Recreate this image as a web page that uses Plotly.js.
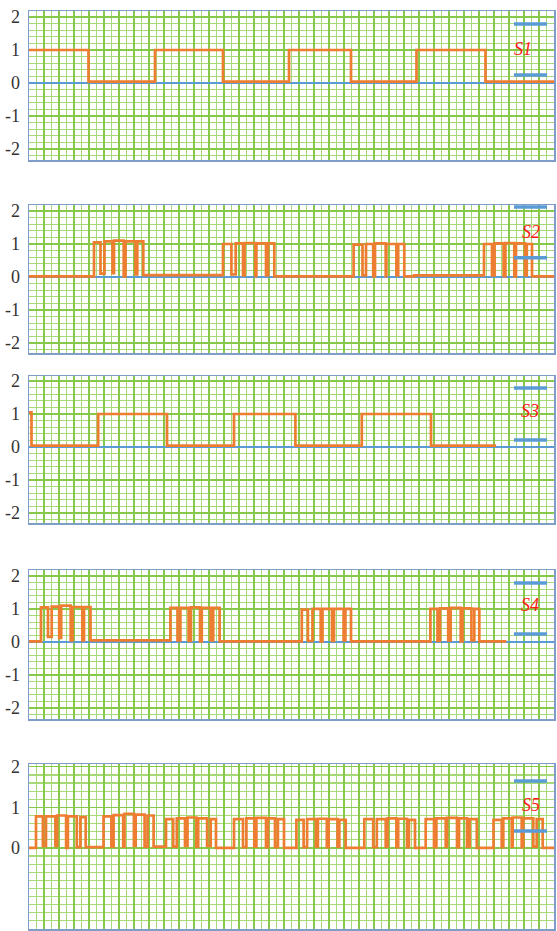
<!DOCTYPE html>
<html><head><meta charset="utf-8">
<script src="https://cdn.plot.ly/plotly-3.0.1.min.js"></script>
<style>html,body{margin:0;padding:0;background:#fff}#chart{width:557px;height:931px}</style>
</head><body><div id="chart"></div>
<script>
// ---- data (time in arbitrary units, level in signal units) ----
const s1Time  = [-1, 58.5, 125, 193, 259, 321, 386.5, 455.5, 524];
const s1Level = [1, 0.04, 1, 0.04, 1, 0.04, 1, 0.04, 0.04];

const s2Time  = [-1, 64, 70.5, 74.5, 82.5, 84, 93.7, 95.5, 105.5, 107.3, 113.3,
                 193, 201.4, 205.7, 213, 214.6, 225.4, 226.4, 236, 238, 244.3,
                 323.6, 332.5, 336, 343.2, 345, 355.7, 356.4, 366.4, 368.2, 374.3, 384,
                 454, 462, 464.6, 473.6, 475.4, 484.3, 486, 495, 496.8, 502, 524];
const s2Level = [0.02, 1.05, 0.1, 1.08, 0.12, 1.1, 0.02, 1.08, 0.08, 1.08, 0.06,
                 1.0, 0.08, 1.02, 0.05, 1.03, 0.03, 1.02, 0.05, 1.02, 0.02,
                 0.98, 0.05, 1.0, 0.02, 1.02, 0.03, 1.0, 0.05, 1.0, 0.02, 0.05,
                 1.0, 0.05, 1.02, 0.03, 1.03, 0.02, 1.02, 0.05, 1.0, 0.02, 0.02];

const s3Time  = [-1, 1.5, 68.2, 137, 204, 265.4, 331.8, 401, 466];
const s3Level = [1.05, 0.04, 1, 0.04, 1, 0.04, 1, 0.04, 0.04];

const s4Time  = [-1, 11, 18, 21.7, 29.2, 31.2, 40.7, 42.5, 52.3, 54, 60.5,
                 140.4, 147.5, 150.4, 158.6, 161, 170, 171.8, 180.7, 183.2, 189.6,
                 271.8, 277.9, 282.5, 290.7, 292.5, 302, 304, 313.6, 315.4, 321,
                 400.4, 407.5, 410, 418.2, 420.7, 430.7, 432.5, 441.4, 444.3, 449.3, 476.4];
const s4Level = [0.02, 1.05, 0.15, 1.07, 0.12, 1.1, 0.05, 1.06, 0.05, 1.06, 0.05,
                 1.03, 0.05, 1.03, 0.03, 1.05, 0.02, 1.03, 0.05, 1.03, 0.02,
                 0.98, 0.03, 1.0, 0.02, 1.0, 0.03, 1.0, 0.05, 1.0, 0.02,
                 1.0, 0.03, 1.02, 0.05, 1.03, 0.02, 1.02, 0.05, 1.0, 0.02, 0.02];

const s5Time  = [-3,
  6, 12.9, 16, 25.4, 27.1, 36.1, 37.9, 46.8, 50.4, 55.7,
  73.5, 81.4, 83.6, 93.2, 94.5, 103.9, 105.7, 114.6, 117.5, 123.6,
  136, 143.2, 146.8, 155, 157.5, 166.4, 168.2, 177.1, 180.7, 186,
  204, 213, 216.4, 224.3, 226.4, 236, 237.9, 245, 247.9, 254,
  266.4, 273.6, 277.1, 286, 287.9, 296.8, 298.6, 307.5, 309.3, 315.7,
  334.3, 343.2, 346.8, 355.7, 357.5, 366.4, 368.2, 377, 378.9, 385,
  395.7, 404, 406.4, 415.7, 417, 427, 429, 437, 439.6, 446.8,
  463.5, 471.7, 473.3, 481.7, 482.7, 491.7, 493.3, 503.3, 506.7, 512.7,
  526];
const s5Level = [0,
  0.78, 0.05, 0.78, 0.05, 0.8, 0.0, 0.78, 0.02, 0.76, 0.02,
  0.78, 0.03, 0.81, 0.03, 0.84, 0.05, 0.82, 0.03, 0.8, 0.03,
  0.71, 0.03, 0.73, 0.05, 0.75, 0.03, 0.73, 0.05, 0.71, 0.0,
  0.71, 0.02, 0.73, 0.03, 0.74, 0.02, 0.73, 0.02, 0.71, 0.0,
  0.69, 0.02, 0.71, 0.03, 0.72, 0.02, 0.71, 0.03, 0.69, 0.0,
  0.71, 0.02, 0.71, 0.03, 0.73, 0.02, 0.72, 0.02, 0.69, 0.0,
  0.71, 0.02, 0.73, 0.03, 0.74, 0.02, 0.73, 0.03, 0.71, 0.0,
  0.69, 0.02, 0.73, 0.03, 0.75, 0.02, 0.73, 0.03, 0.71, 0.0,
  0];

const seriesNames = ['S1', 'S2', 'S3', 'S4', 'S5'];
const nameTime    = [493, 501, 500, 500, 501];
const nameLevel   = [1.0, 1.33, 1.06, 1.06, 1.01];
const keyTime     = [484, 517];
const keyUpper    = [1.79, 2.12, 1.79, 1.79, 1.65];
const keyLower    = [0.24, 0.58, 0.21, 0.24, 0.42];
const baseTime    = [-1, 524];
const baseLevel   = [0, 0];
const tickVals    = [2, 1, 0, -1, -2];
const tickText    = ['2', '1', '0', '-1', '-2'];
const tickVals5   = [2, 1, 0];
const tickText5   = ['2', '1', '0'];

// ---- layout / style ----
const times  = [s1Time, s2Time, s3Time, s4Time, s5Time];
const levels = [s1Level, s2Level, s3Level, s4Level, s5Level];
const H = 931, W = 557;
const panels = [
  {top: 11,  bottom: 160, range: [-2.333, 2.182], minor: 0.2},
  {top: 205, bottom: 353, range: [-2.30, 2.18],  minor: 0.2},
  {top: 376, bottom: 523, range: [-2.30, 2.15],  minor: 0.2},
  {top: 570, bottom: 719, range: [-2.333, 2.18], minor: 0.2},
  {top: 764, bottom: 929, range: [-2.0, 2.07],   minor: 0.2}
];
const BLUE = '#5b9bd5', ORANGE = '#ed7d31';
const GRID = '#86c94a', GRID2 = '#a6da78', BORDER = '#7f9dc9';

const traces = [];
const layout = {
  width: W, height: H, margin: {l: 0, r: 0, t: 0, b: 0},
  paper_bgcolor: '#fff', plot_bgcolor: '#fff', showlegend: false
};

panels.forEach((p, i) => {
  const sfx = i === 0 ? '' : String(i + 1);
  const xa = 'x' + sfx, ya = 'y' + sfx;
  if (i < 4) {
    traces.push({x: baseTime, y: baseLevel, xaxis: xa, yaxis: ya, mode: 'lines',
      line: {color: BLUE, width: 2}, hoverinfo: 'skip'});
  }
  traces.push({x: times[i], y: levels[i], xaxis: xa, yaxis: ya, mode: 'lines',
    line: {color: ORANGE, width: 2.7, shape: 'hv'}, hoverinfo: 'skip'});
  traces.push({x: [keyTime[0], keyTime[1], null, keyTime[0], keyTime[1]],
    y: [keyUpper[i], keyUpper[i], null, keyLower[i], keyLower[i]],
    xaxis: xa, yaxis: ya, mode: 'lines', line: {color: BLUE, width: 3.5}, hoverinfo: 'skip'});
  traces.push({x: [nameTime[i]], y: [nameLevel[i]], text: [seriesNames[i]], xaxis: xa, yaxis: ya,
    mode: 'text', textposition: 'middle center',
    textfont: {family: 'Liberation Serif, serif', size: 18, color: '#ff1a1a', style: 'italic'},
    hoverinfo: 'skip'});

  layout['xaxis' + sfx] = {
    domain: [29 / W, 554 / W], range: [-1, 524], anchor: ya,
    showticklabels: false, ticks: '', zeroline: false,
    showgrid: true, gridcolor: GRID, gridwidth: 1.2, tick0: -1, dtick: 15,
    minor: {showgrid: true, tick0: -1, dtick: 7.5, gridcolor: GRID2, gridwidth: 1.2},
    showline: true, mirror: true, linecolor: BORDER, linewidth: 1.5
  };
  layout['yaxis' + sfx] = {
    domain: [1 - p.bottom / H, 1 - p.top / H], range: p.range, anchor: xa,
    tickmode: 'array', tickvals: i < 4 ? tickVals : tickVals5, ticktext: i < 4 ? tickText : tickText5,
    ticks: 'outside', ticklen: 4, tickcolor: 'rgba(0,0,0,0)',
    tickfont: {family: 'Liberation Serif, serif', size: 18, color: '#333'},
    zeroline: false, showgrid: true, gridcolor: GRID, gridwidth: 1.2,
    minor: {showgrid: true, tick0: 0, dtick: p.minor, gridcolor: GRID2, gridwidth: 1.2},
    showline: true, mirror: true, linecolor: BORDER, linewidth: 1.5
  };
});

Plotly.newPlot('chart', traces, layout, {displayModeBar: false, staticPlot: true});
</script>
</body></html>
